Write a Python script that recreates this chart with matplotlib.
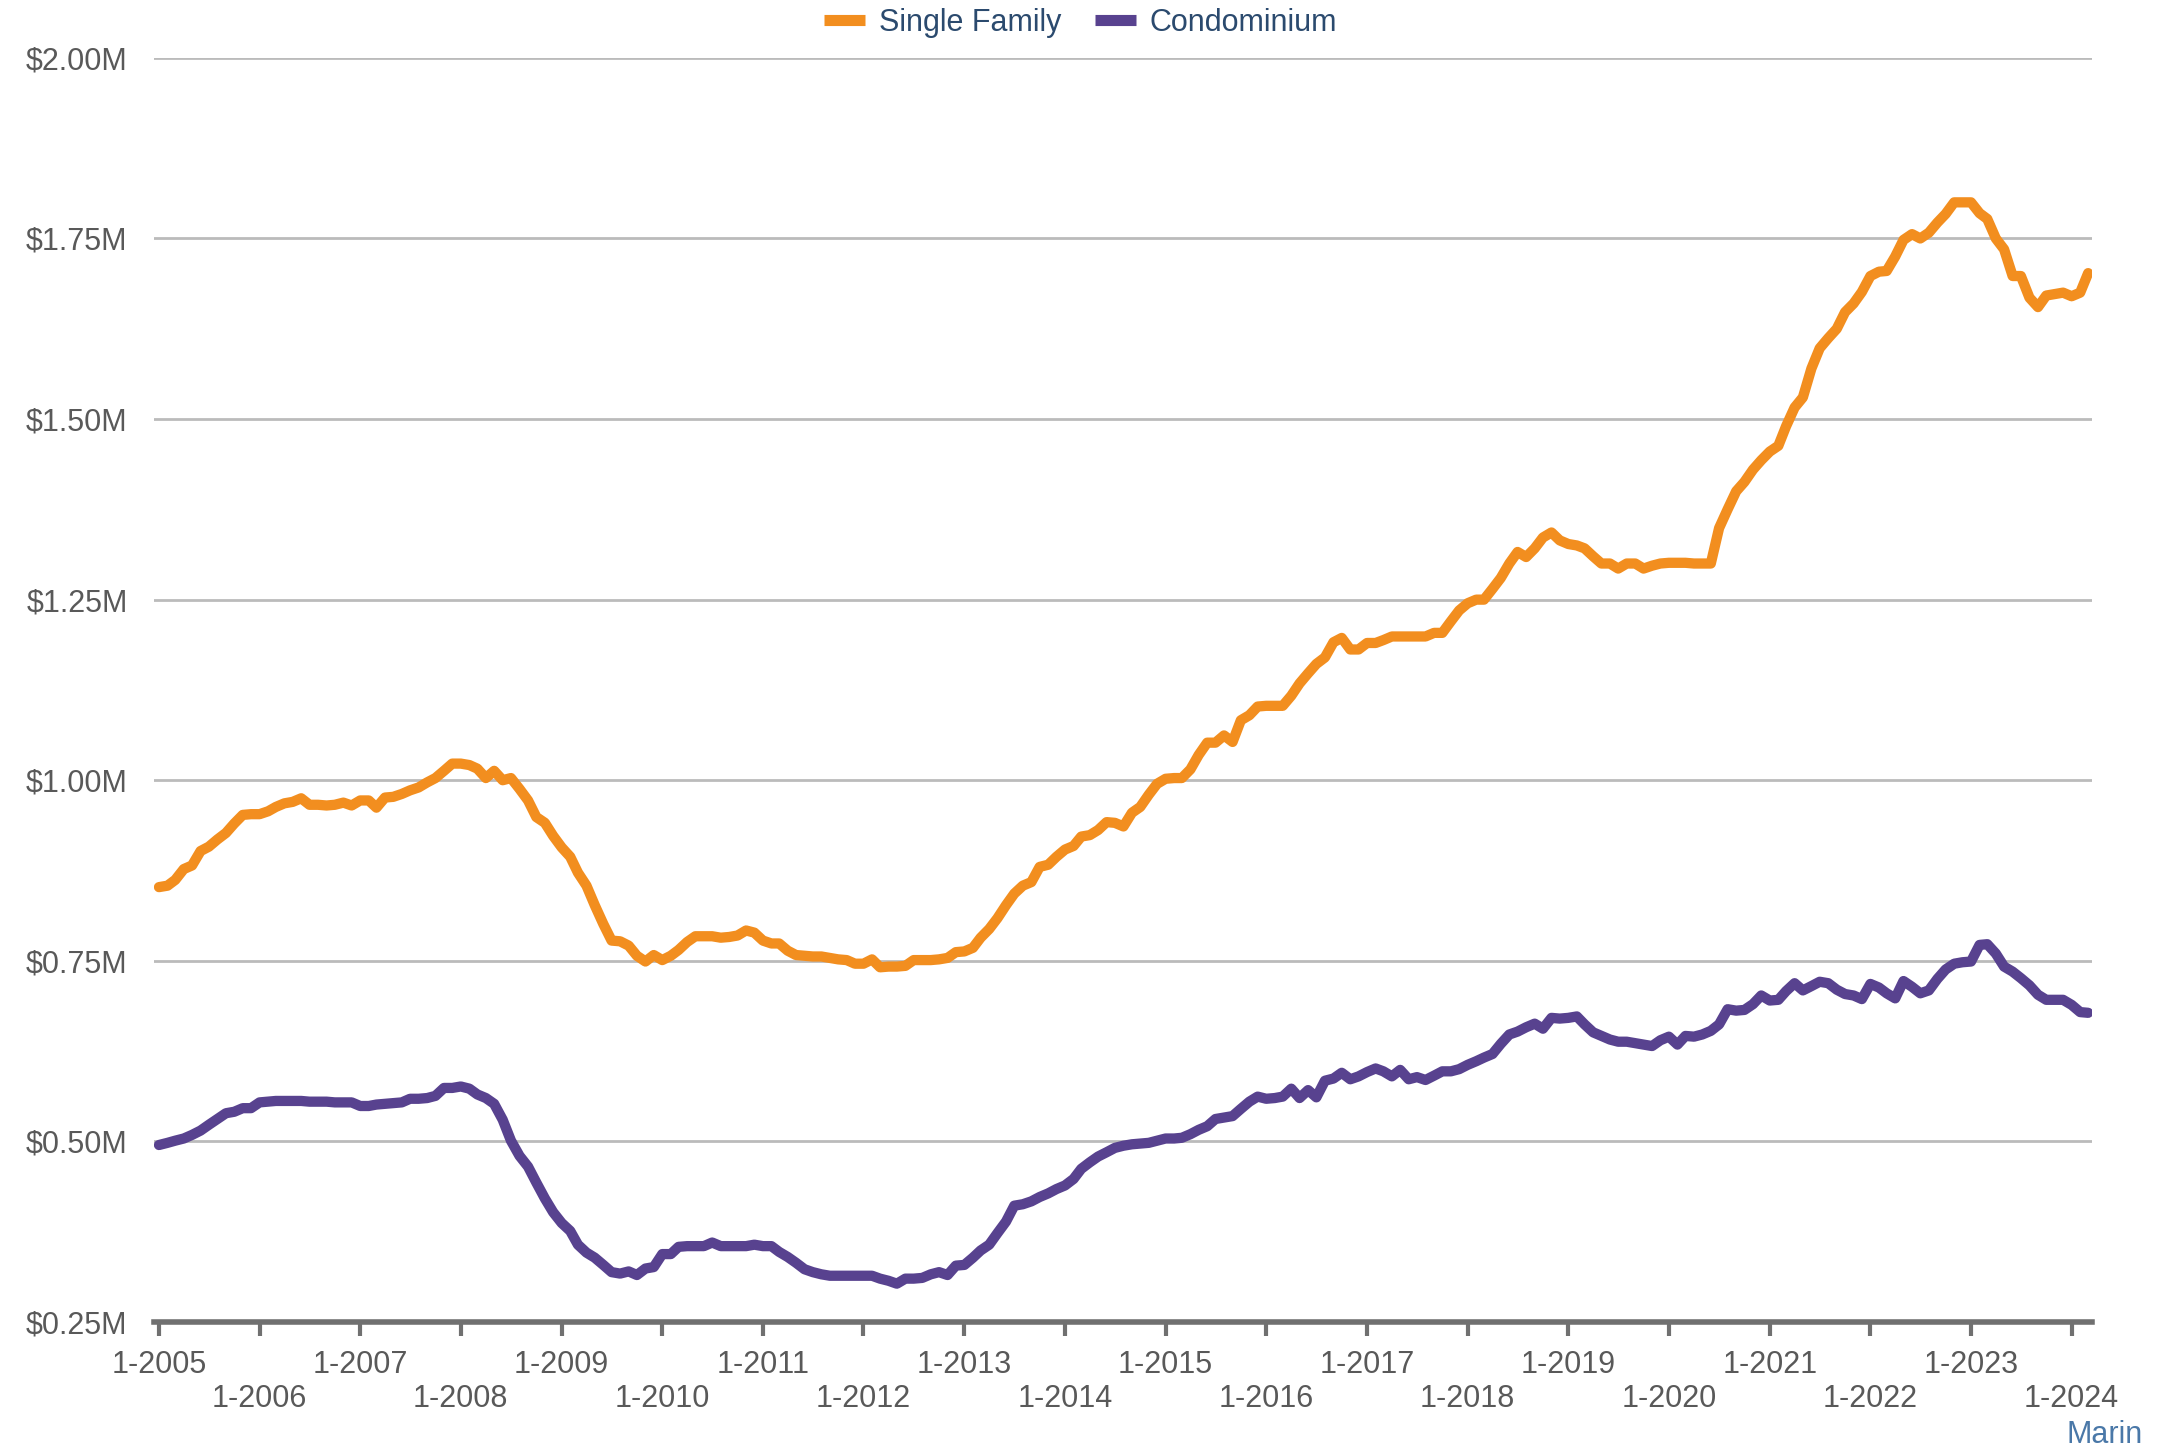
import matplotlib.pyplot as plt
from matplotlib.lines import Line2D
import pandas as pd

plt.rcParams['font.family'] = ['Liberation Sans', 'DejaVu Sans']

# median sales price, millions of dollars, monthly from 1-2005
single_family = [
    0.852, 0.854, 0.862, 0.877, 0.882, 0.902, 0.908, 0.918, 0.927, 0.940, 0.952, 0.953,  # 2005
    0.953, 0.957, 0.963, 0.968, 0.970, 0.975, 0.966, 0.966, 0.965, 0.966, 0.969, 0.965,  # 2006
    0.972, 0.972, 0.962, 0.976, 0.977, 0.981, 0.986, 0.990, 0.997, 1.003, 1.013, 1.023,  # 2007
    1.023, 1.021, 1.016, 1.003, 1.013, 1.000, 1.003, 0.988, 0.972, 0.949, 0.941, 0.923,  # 2008
    0.907, 0.894, 0.872, 0.854, 0.827, 0.801, 0.778, 0.777, 0.771, 0.757, 0.749, 0.758,  # 2009
    0.751, 0.757, 0.765, 0.776, 0.784, 0.784, 0.784, 0.782, 0.783, 0.785, 0.792, 0.789,  # 2010
    0.778, 0.774, 0.774, 0.764, 0.758, 0.757, 0.756, 0.756, 0.754, 0.752, 0.751, 0.746,  # 2011
    0.746, 0.752, 0.741, 0.742, 0.742, 0.743, 0.751, 0.751, 0.751, 0.752, 0.754, 0.762,  # 2012
    0.763, 0.768, 0.782, 0.794, 0.809, 0.827, 0.843, 0.854, 0.859, 0.880, 0.883, 0.894,  # 2013
    0.904, 0.909, 0.922, 0.924, 0.931, 0.942, 0.941, 0.936, 0.955, 0.963, 0.980, 0.995,  # 2014
    1.002, 1.003, 1.003, 1.015, 1.035, 1.052, 1.052, 1.062, 1.053, 1.083, 1.090, 1.102,  # 2015
    1.103, 1.103, 1.103, 1.117, 1.134, 1.148, 1.161, 1.170, 1.191, 1.197, 1.181, 1.181,  # 2016
    1.190, 1.190, 1.194, 1.199, 1.199, 1.199, 1.199, 1.199, 1.204, 1.204, 1.220, 1.235,  # 2017
    1.245, 1.250, 1.250, 1.265, 1.280, 1.300, 1.316, 1.309, 1.321, 1.336, 1.343, 1.332,  # 2018
    1.327, 1.325, 1.321, 1.310, 1.300, 1.300, 1.293, 1.300, 1.300, 1.293, 1.297, 1.300,  # 2019
    1.301, 1.301, 1.301, 1.300, 1.300, 1.300, 1.349, 1.375, 1.400, 1.413, 1.430, 1.443,  # 2020
    1.455, 1.463, 1.490, 1.516, 1.530, 1.570, 1.598, 1.612, 1.625, 1.648, 1.660, 1.676,  # 2021
    1.698, 1.704, 1.705, 1.725, 1.748, 1.756, 1.750, 1.758, 1.772, 1.784, 1.800, 1.800,  # 2022
    1.800, 1.785, 1.777, 1.750, 1.735, 1.698, 1.698, 1.668, 1.655, 1.671, 1.673, 1.675,  # 2023
    1.670, 1.675, 1.702,                                                                  # 2024
]

condominium = [
    0.495, 0.498, 0.501, 0.504, 0.509, 0.515, 0.523, 0.531, 0.539, 0.541, 0.546, 0.546,  # 2005
    0.554, 0.555, 0.556, 0.556, 0.556, 0.556, 0.555, 0.555, 0.555, 0.554, 0.554, 0.554,  # 2006
    0.549, 0.549, 0.551, 0.552, 0.553, 0.554, 0.559, 0.559, 0.560, 0.563, 0.574, 0.574,  # 2007
    0.576, 0.573, 0.565, 0.560, 0.552, 0.530, 0.501, 0.480, 0.465, 0.443, 0.421, 0.402,  # 2008
    0.387, 0.376, 0.357, 0.346, 0.339, 0.329, 0.319, 0.317, 0.320, 0.315, 0.324, 0.326,  # 2009
    0.344, 0.344, 0.354, 0.355, 0.355, 0.355, 0.360, 0.355, 0.355, 0.355, 0.355, 0.357,  # 2010
    0.355, 0.355, 0.347, 0.340, 0.332, 0.323, 0.319, 0.316, 0.314, 0.314, 0.314, 0.314,  # 2011
    0.314, 0.314, 0.310, 0.307, 0.303, 0.310, 0.310, 0.311, 0.316, 0.319, 0.315, 0.328,  # 2012
    0.329, 0.339, 0.349, 0.357, 0.373, 0.389, 0.411, 0.413, 0.417, 0.423, 0.428, 0.434,  # 2013
    0.439, 0.448, 0.462, 0.471, 0.479, 0.485, 0.491, 0.494, 0.496, 0.497, 0.498, 0.501,  # 2014
    0.504, 0.504, 0.505, 0.510, 0.516, 0.521, 0.531, 0.533, 0.535, 0.545, 0.555, 0.562,  # 2015
    0.559, 0.560, 0.562, 0.573, 0.560, 0.571, 0.561, 0.584, 0.587, 0.595, 0.586, 0.590,  # 2016
    0.596, 0.601, 0.597, 0.590, 0.599, 0.586, 0.589, 0.585, 0.591, 0.597, 0.597, 0.600,  # 2017
    0.606, 0.611, 0.616, 0.621, 0.635, 0.648, 0.652, 0.658, 0.663, 0.656, 0.671, 0.670,  # 2018
    0.671, 0.673, 0.662, 0.651, 0.646, 0.641, 0.638, 0.638, 0.636, 0.634, 0.632, 0.640,  # 2019
    0.645, 0.634, 0.646, 0.645, 0.648, 0.653, 0.662, 0.683, 0.681, 0.682, 0.690, 0.702,  # 2020
    0.695, 0.696, 0.708, 0.719, 0.709, 0.715, 0.721, 0.719, 0.710, 0.704, 0.702, 0.697,  # 2021
    0.718, 0.713, 0.705, 0.698, 0.722, 0.714, 0.705, 0.709, 0.725, 0.738, 0.746, 0.748,  # 2022
    0.749, 0.772, 0.773, 0.760, 0.742, 0.735, 0.726, 0.716, 0.703, 0.696, 0.696, 0.696,  # 2023
    0.689, 0.679, 0.678,                                                                  # 2024
]

series_names = ['Single Family', 'Condominium']
series_colors = ['#F28E1F', '#58428F']
tick_years = list(range(2005, 2025))
y_ticks = [0.25, 0.50, 0.75, 1.00, 1.25, 1.50, 1.75, 2.00]

months = pd.date_range('2005-01-01', periods=len(single_family), freq='MS')

fig = plt.figure(figsize=(21.57, 14.47), dpi=100)
ax = fig.add_axes([0.0714, 0.0864, 0.8986, 0.8736])

for vals, color in zip([single_family, condominium], series_colors):
    ax.plot(months, vals, color=color, lw=7.4, solid_capstyle='round',
            solid_joinstyle='round', zorder=3)

ax.set_ylim(0.25, 2.00)
ax.set_yticks(y_ticks)
ax.set_yticklabels([f'${v:.2f}M' for v in y_ticks])
ax.grid(axis='y', color='#BBBBBB', lw=2, zorder=0)
ax.tick_params(axis='y', length=0, pad=19, labelsize=22, labelcolor='#595959')

tick_dates = pd.to_datetime([f'{y}-01-01' for y in tick_years])
ax.set_xticks(tick_dates)
ax.set_xticklabels([f'1-{y}' if i % 2 == 0 else f'\n1-{y}' for i, y in enumerate(tick_years)])
ax.tick_params(axis='x', length=10, width=3, color='#707070', pad=10,
               labelsize=22, labelcolor='#595959')
ax.set_xlim(months[0] - pd.Timedelta(days=18), months[-1] + pd.Timedelta(days=15))

for s in ['top', 'right', 'left']:
    ax.spines[s].set_visible(False)
ax.spines['bottom'].set_color('#707070')
ax.spines['bottom'].set_linewidth(4)

handles = [Line2D([0], [0], color=c, lw=8, solid_capstyle='butt') for c in series_colors]
leg = fig.legend(handles, series_names, loc='center', bbox_to_anchor=(0.501, 0.984),
                 ncol=2, frameon=False, fontsize=22, handlelength=1.35,
                 handletextpad=0.45, columnspacing=1.1)
for t in leg.get_texts():
    t.set_color('#2B4A6E')

fig.text(0.9935, 0.003, 'Marin', ha='right', va='baseline', fontsize=22, color='#4A78A8')

fig.savefig('out.png', dpi=100)
